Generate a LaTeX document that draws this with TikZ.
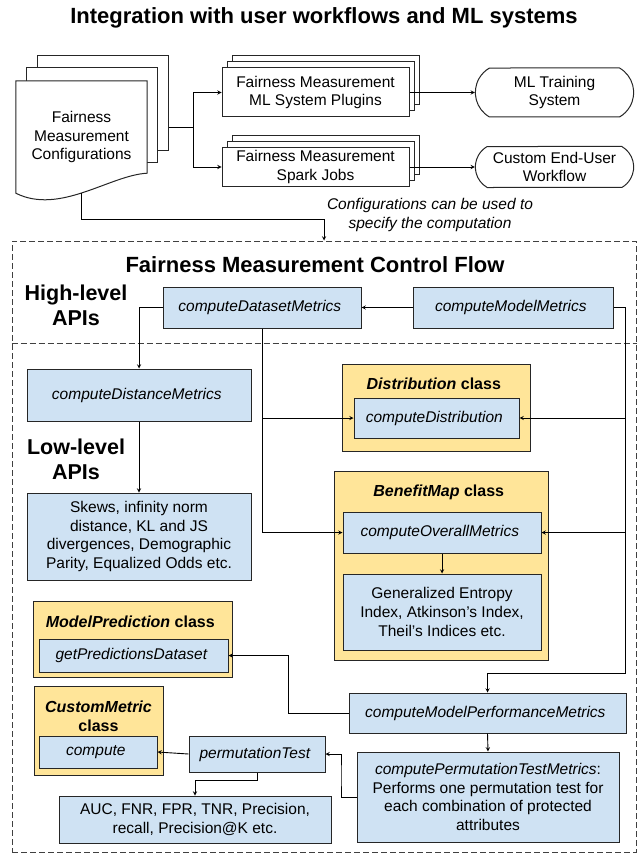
\documentclass[tikz,border=0pt]{standalone}
\usepackage{fontspec}
\setmainfont{Liberation Sans}
\usepackage{xcolor}
\usepackage{tikz}
\usetikzlibrary{shapes.misc, arrows, positioning, calc, shadows, backgrounds}
\definecolor{apiblue}{HTML}{CFE2F3}
\definecolor{classyellow}{HTML}{FFE599}
\newcommand{\boxfont}{\fontsize{15.5}{18.8}\selectfont}
\tikzset{
	%
	% Horizontal -> vertical -> horizontal line
	%
	-|-/.style={
		to path={
			(\tikztostart) -| ($(\tikztostart)!#1!(\tikztotarget)$) |- (\tikztotarget)
			\tikztonodes
		}
	},
	-|-/.default=0.5, % default at mid-point.
	%
	% Vertical -> horizontal -> vertical line.
	%
	|-|/.style={
		to path={
			(\tikztostart) |- ($(\tikztostart)!#1!(\tikztotarget)$) -| (\tikztotarget)
			\tikztonodes
		}
	},
	|-|/.default=0.5,
}
\tikzstyle{TITLE} = [text centered, inner sep=0pt,
                     font=\fontsize{22}{25}\selectfont\bfseries]
\tikzstyle{LEVEL} = [align=center, inner sep=0pt,
                     font=\fontsize{21.5}{25}\selectfont\bfseries]
\tikzstyle{NOTE}  = [align=center, inner sep=0pt, font=\boxfont\itshape]
\tikzstyle{PAGE}  = [draw=black!85,     % color for LINES
                     line width=1pt,    % control line width.
                     fill=white]
\tikzstyle{STACK} = [draw=black!85,
                     line width=1pt,
                     fill=white,
                     rectangle,
                     align=center,
                     font=\boxfont,
                     double copy shadow={shadow xshift=5pt, shadow yshift=6pt}]
\tikzstyle{TERM}  = [draw=black!85,
                     line width=1pt,
                     rounded rectangle,            % pill shape
                     rounded rectangle arc length=120,
                     align=center,
                     font=\boxfont]
\tikzstyle{API}   = [draw=black!85,
                     line width=1pt,
                     fill=apiblue,     % Fill-in the box.
                     rectangle,
                     align=center,
                     font=\boxfont]
\tikzstyle{APIFN} = [API, font=\boxfont\itshape]
\tikzstyle{CLASS} = [draw=black!85,
                     line width=1pt,
                     fill=classyellow,
                     rectangle]
\tikzstyle{CLASSTITLE} = [align=center, inner sep=0pt,
                     font=\fontsize{16}{19}\selectfont\bfseries]
\tikzstyle{FRAME} = [draw=black!75, line width=1pt, dash pattern=on 6pt off 3pt]
\tikzstyle{ARROW} = [line width=0.9pt, ->, >=stealth]

\begin{document}
\begin{tikzpicture}[x=1pt, y=-1pt]
		\useasboundingbox (0,0) rectangle (640,853);
		
		% Title
		\node(title)[TITLE] at (324,18)
		{
			Integration with user workflows and ML systems
		};
		
		
		
		% Configuration documents
		\node(cfg)[align=center, font=\boxfont, minimum width=131, minimum height=112] at (81.5,137)
		{
			Fairness\\
			Measurement\\
			Configurations
		};
		\begin{scope}[on background layer]
		\node(cfgback)[PAGE, minimum width=131, minimum height=95] at (102.5,103.5) {};
		\node(cfgmid)[PAGE, minimum width=131, minimum height=95] at (91.5,115.5) {};
		\draw[PAGE] (cfg.north west) -- (cfg.north east) -- ($(cfg.south east)+(0,-20)$)
			.. controls ($(cfg.south west)+(94,-18)$) and ($(cfg.south west)+(44,22)$) .. (cfg.south west) -- cycle;
		\end{scope}
		\coordinate (split) at (193,127);
		
		
		
		% Plugins and jobs
		\node(plug)[STACK, minimum width=187, minimum height=49] at (315.5,92.5)
		{
			Fairness Measurement\\
			ML System Plugins
		};
		\node(spark)[STACK, below of=plug, node distance=74.5pt, minimum width=187, minimum height=38]
		{
			Fairness Measurement\\
			Spark Jobs
		};
		
		
		
		% Where they end up
		\node(mlt)[TERM, right of=plug, node distance=239pt, minimum width=165, minimum height=49]
		{
			ML Training\\
			System
		};
		\node(cust)[TERM, right of=spark, node distance=239pt, minimum width=165, minimum height=41]
		{
			Custom End-User\\
			Workflow
		};
		\node(cfgnote)[NOTE] at (430,215)
		{
			Configurations can be used to\\
			specify the computation
		};
		
		
		
		% Control flow box
		\node(flowbox)[FRAME, minimum width=624, minimum height=611] at (324,546.5) {};
		\coordinate (divy) at (0,343);
		\draw[FRAME] (flowbox.west |- divy) -- (flowbox.east |- divy);
		\node(flowttl)[TITLE] at (315,265)
		{
			Fairness Measurement Control Flow
		};
		\node(hlapi)[LEVEL] at (76,305.5)
		{
			High-level\\
			APIs
		};
		\node(llapi)[LEVEL] at (76,459.5)
		{
			Low-level\\
			APIs
		};
		
		
		
		% High-level APIs
		\node(dsm)[APIFN, minimum width=198, minimum height=41] at (262,307.5)
		{
			computeDatasetMetrics
		};
		\node(mdm)[APIFN, right of=dsm, node distance=251pt, minimum width=200, minimum height=41]
		{
			computeModelMetrics
		};
		
		
		
		% Low-level APIs
		\node(dist)[APIFN, minimum width=224, minimum height=52] at (139,395)
		{
			computeDistanceMetrics
		};
		\node(skews)[API, minimum width=224, minimum height=87] at (139,536.5)
		{
			Skews, infinity norm\\
			distance, KL and JS\\
			divergences, Demographic\\
			Parity, Equalized Odds etc.
		};
		
		% The classes
		\node(distcls)[CLASS, minimum width=188, minimum height=87] at (436,407.5) {};
		\node(distttl)[CLASSTITLE] at (436,384)
		{
			\textit{Distribution} class
		};
		\node(distfn)[APIFN, minimum width=165, minimum height=40] at (436.5,418)
		{
			computeDistribution
		};
		
		\node(bmcls)[CLASS, minimum width=214, minimum height=189] at (441,565.5) {};
		\node(bmttl)[CLASSTITLE] at (441,492)
		{
			\textit{BenefitMap} class
		};
		\node(overall)[APIFN, minimum width=198, minimum height=41] at (442,532.5)
		{
			computeOverallMetrics
		};
		\node(gei)[API, below of=overall, node distance=79.5pt, minimum width=198, minimum height=76]
		{
			Generalized Entropy\\
			Index, Atkinson’s Index,\\
			Theil’s Indices etc.
		};
		
		\node(mpcls)[CLASS, minimum width=199, minimum height=76] at (132.5,639) {};
		\node(mpttl)[CLASSTITLE] at (132.5,622)
		{
			\textit{ModelPrediction} class
		};
		\node(getpred)[APIFN, minimum width=189, minimum height=33] at (133.5,655.5)
		{
			getPredictionsDataset
		};
		
		\node(cmcls)[CLASS, minimum width=129, minimum height=89] at (98.5,730.5) {};
		\node(cmttl)[CLASSTITLE] at (98.5,716.5)
		{
			\textit{CustomMetric}\\
			class
		};
		\node(compute)[APIFN, minimum width=118, minimum height=32] at (98,752)
		{
			compute
		};
		
		% Model performance
		\node(mpm)[APIFN, minimum width=277, minimum height=40] at (487.5,713)
		{
			computeModelPerformanceMetrics
		};
		\node(cptm)[API, minimum width=262, minimum height=90] at (488,797)
		{
			\textit{computePermutationTestMetrics}:\\
			Performs one permutation test for\\
			each combination of protected\\
			attributes
		};
		\node(permtest)[APIFN, minimum width=136, minimum height=36] at (257,754)
		{
			permutationTest
		};
		\node(auc)[API, minimum width=272, minimum height=47] at (195,819.5)
		{
			AUC, FNR, FPR, TNR, Precision,\\
			recall, Precision@K etc.
		};
		
		
		
		% Arrows from the configurations
		\draw[line width=0.9pt] (split -| cfgback.east) -- (split);
		\draw[ARROW] (split) |- (plug.west);
		\draw[ARROW] (split) |- (spark.west);
		\draw[ARROW] (plug.east) -- (mlt.west);
		\draw[ARROW] (spark.east) -- (cust.west);
		\draw[ARROW] (cfg.south) to [|-|=0.56] (flowbox.north);
		% High-level calls
		\draw[ARROW] (mdm.west) -- (dsm.east);
		\draw[ARROW] (dsm.west) -| (dist.north);
		\draw[ARROW] (dsm.south) |- (distfn.west);
		\draw[ARROW] (dsm.south) |- (overall.west);
		\coordinate (mdmbus) at (625,673);
		\draw[ARROW] (mdm.east) -| (mdmbus) -| (mpm.north);
		\draw[ARROW] (mdmbus |- distfn.east) -- (distfn.east);
		\draw[ARROW] (mdmbus |- overall.east) -- (overall.east);
		% Low-level calls
		\draw[ARROW] (dist.south) -- (skews.north);
		\draw[ARROW] (overall.south) -- (gei.north);
		\draw[ARROW] (mpm.west) to [-|-] (getpred.east);
		\draw[ARROW] (mpm.south) -- (cptm.north);
		\draw[ARROW] (cptm.west) to [-|-] (permtest.east);
		\draw[ARROW] (permtest.west) -- (compute.east);
		\draw[ARROW] (permtest.south) to [|-|=0.33] (auc.north);
		
\end{tikzpicture}
\end{document}
